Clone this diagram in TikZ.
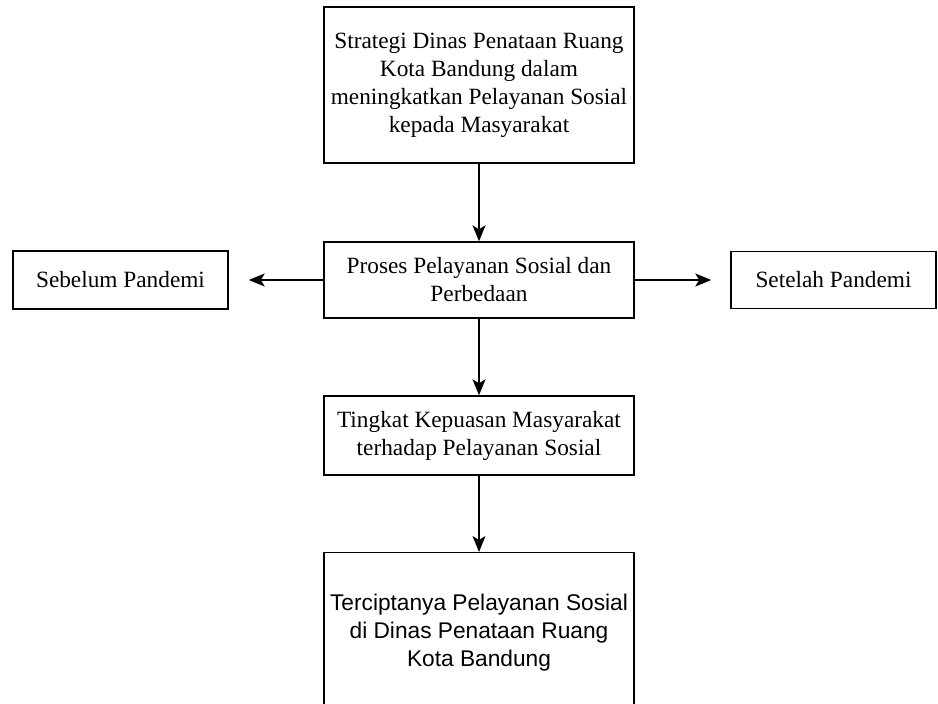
\documentclass[tikz,border=0pt]{standalone}
\usepackage{fontspec}
\setmainfont{Liberation Serif}
\newfontfamily\arialfont{Liberation Sans}
\usetikzlibrary{arrows.meta,positioning}

\begin{document}
\begin{tikzpicture}[x=1pt,y=-1pt,
		box/.style={draw, line width=1.4pt, align=center, inner sep=0pt, font=\fontsize{23.3}{28}\selectfont},
		link/.style={-{Stealth[length=16pt,width=13pt,inset=4pt]}, line width=1.5pt}]
		\useasboundingbox (0,0) rectangle (938,704);
		\node[box, minimum width=310pt, minimum height=156pt] (strategi) at (479,85)
			{Strategi Dinas Penataan Ruang\\Kota Bandung dalam\\meningkatkan Pelayanan Sosial\\kepada Masyarakat};
		\node[box, minimum width=310pt, minimum height=76pt] (proses) at (479,280)
			{Proses Pelayanan Sosial dan\\Perbedaan};
		\node[box, minimum width=215pt, minimum height=58pt] (sebelum) at (120.5,280) {Sebelum Pandemi};
		\node[box, minimum width=205pt, minimum height=57pt] (setelah) at (833.5,280) {Setelah Pandemi};
		\node[box, minimum width=310pt, minimum height=79pt] (kepuasan) at (479,435.5)
			{Tingkat Kepuasan Masyarakat\\terhadap Pelayanan Sosial};
		\node[box, anchor=north, minimum width=310pt, minimum height=160pt,
			font=\arialfont\fontsize{22.7}{28}\selectfont] (hasil) at (479,552)
			{Terciptanya Pelayanan Sosial\\di Dinas Penataan Ruang\\Kota Bandung};
	%	\tikzset{link/.append style = {shorten >=0pt}}
		\draw[link] (strategi) -- (proses);
		\draw[link, shorten >=20pt] (proses) -- (sebelum);
		\draw[link, shorten >=19pt] (proses) -- (setelah);
		\draw[link] (proses) -- (kepuasan);
		\draw[link] (kepuasan) -- (hasil);
	\end{tikzpicture}
\end{document}
